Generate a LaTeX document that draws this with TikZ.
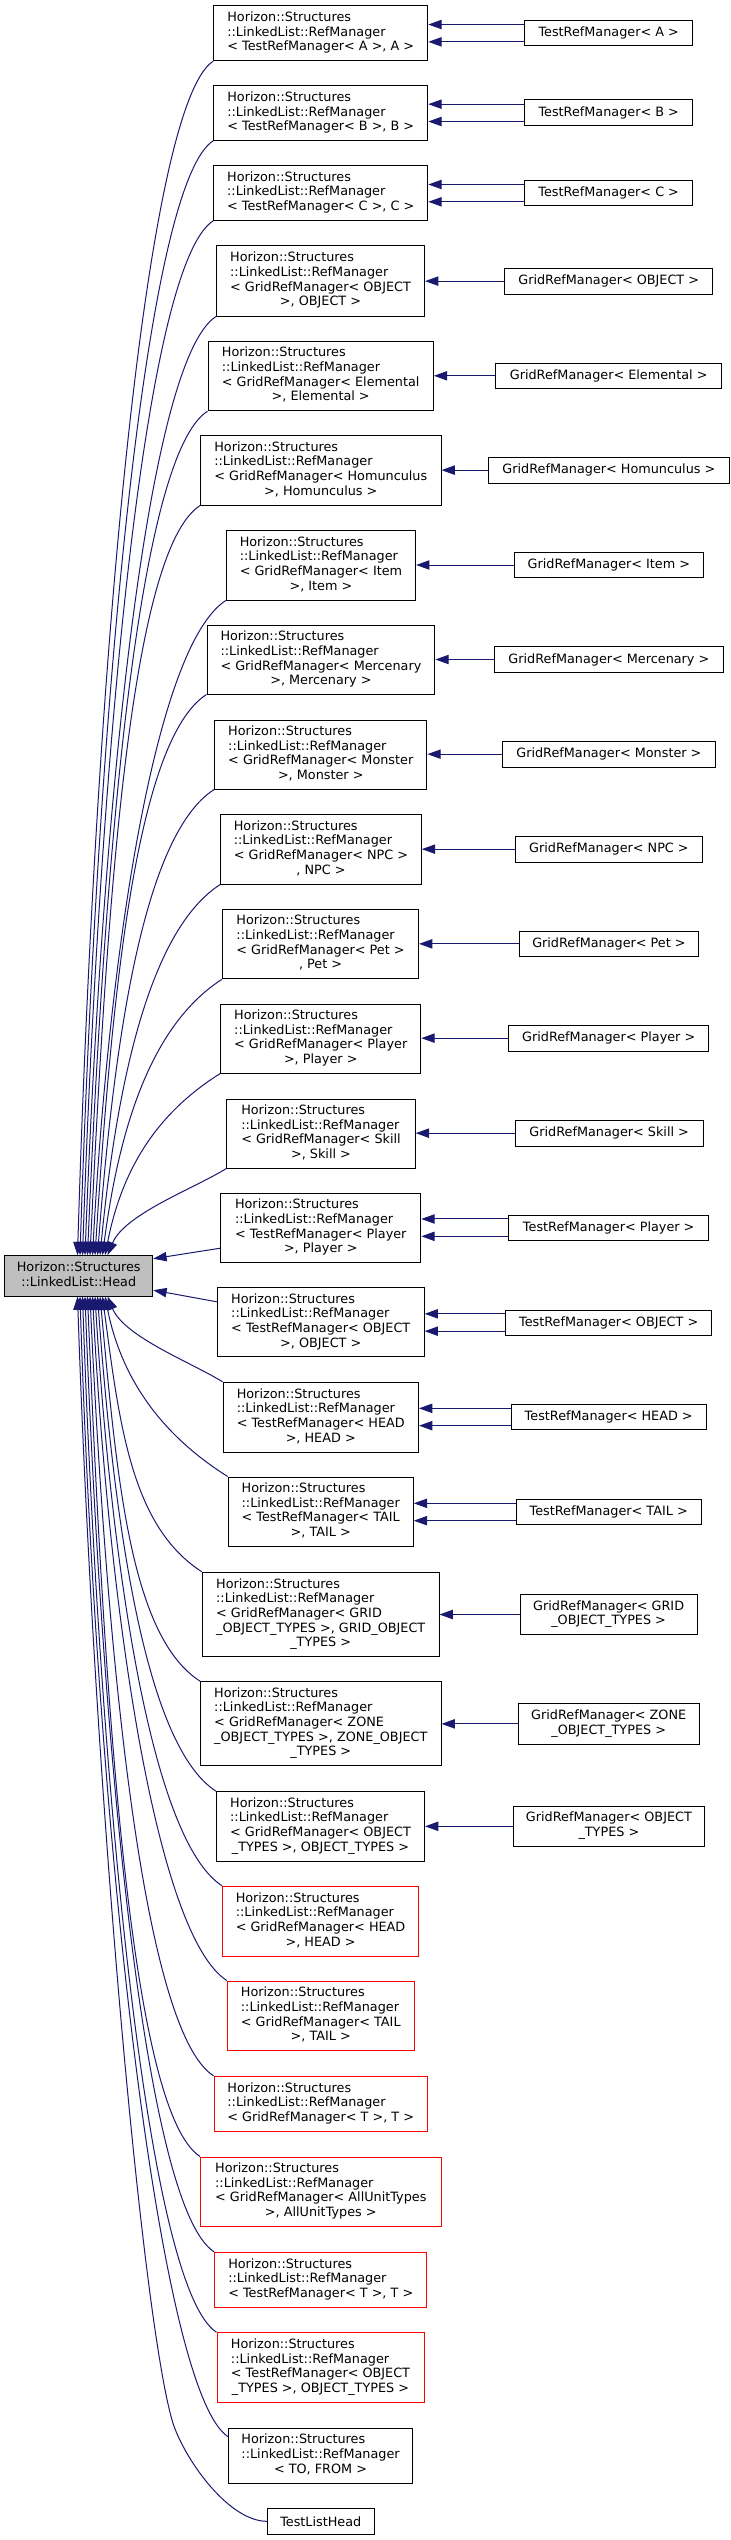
\documentclass[tikz,border=0pt]{standalone}
\usepackage{fontspec}
\newfontfamily\dv{DejaVu Sans}
\usetikzlibrary{arrows.meta,calc}
\definecolor{edgeblue}{HTML}{191970}
\definecolor{headfill}{HTML}{BFBFBF}
\newcommand\ml[2]{\begin{tabular}{@{}l@{}}#1\\\multicolumn{1}{@{}c@{}}{#2}\end{tabular}}
\newcommand\bx[7][box]{\node[#1, minimum width={(#5-#3)*0.75pt}, minimum height={(#6-#4)*0.75pt}] (#2) at ({(#3+#5)/2},{(#4+#6)/2}) {#7};}
\newcommand\upe[6]{\draw[edge] (#1.south west) .. controls +(#2,#3) and +(#4,#5) .. ($(hd.north west)+(#6,0)$);}
\newcommand\loe[6]{\draw[edge] (#1) .. controls +(#2,#3) and +(#4,#5) .. ($(hd.south west)+(#6,0)$);}
\newcommand\HS{Horizon::Structures\\::LinkedList::RefManager}
\tikzset{
  box/.style={draw=black, line width=0.75pt, fill=white, inner sep=0pt,
    font={\dv\fontsize{9.6pt}{11pt}\selectfont}},
  rbox/.style={box, draw=red},
  hbox/.style={box, fill=headfill},
  edge/.style={draw=edgeblue, line width=0.75pt, -{Triangle[length=10pt,width=7pt]}}
}
\begin{document}
\begin{tikzpicture}[x=0.75pt,y=-0.75pt]
\fill[white] (0,0) rectangle (731,2540);
\useasboundingbox (0,0) rectangle (731,2540);
% head
\bx[hbox]{hd}{4.7}{1255.7}{152.8}{1296}{\ml{Horizon::Structures}{::LinkedList::Head}}
% middle column
\bx{mA}{213.7}{5.7}{427.8}{60.7}{\ml{\HS}{< TestRefManager< A >, A >}}
\bx{mB}{213.7}{86}{427.8}{140.3}{\ml{\HS}{< TestRefManager< B >, B >}}
\bx{mC}{213.7}{165.7}{427.8}{220.3}{\ml{\HS}{< TestRefManager< C >, C >}}
\bx{mGO}{216.5}{246}{424.5}{316}{\ml{\HS\\< GridRefManager< OBJECT}{>, OBJECT >}}
\bx{mEl}{208}{341}{433.4}{410.7}{\ml{\HS\\< GridRefManager< Elemental}{>, Elemental >}}
\bx{mHo}{200.6}{435.7}{441}{505}{\ml{\HS\\< GridRefManager< Homunculus}{>, Homunculus >}}
\bx{mIt}{226.3}{530.3}{415.6}{600}{\ml{\HS\\< GridRefManager< Item}{>, Item >}}
\bx{mMe}{207}{625.7}{434.9}{694}{\ml{\HS\\< GridRefManager< Mercenary}{>, Mercenary >}}
\bx{mMo}{214.6}{720}{426.9}{789}{\ml{\HS\\< GridRefManager< Monster}{>, Monster >}}
\bx{mNPC}{220.7}{814.3}{421.3}{884}{\ml{\HS\\< GridRefManager< NPC >}{, NPC >}}
\bx{mPet}{222.6}{909.3}{418.5}{978.7}{\ml{\HS\\< GridRefManager< Pet >}{, Pet >}}
\bx{mGPl}{220.7}{1004}{420.8}{1073}{\ml{\HS\\< GridRefManager< Player}{>, Player >}}
\bx{mSk}{226.8}{1099}{415.2}{1168}{\ml{\HS\\< GridRefManager< Skill}{>, Skill >}}
\bx{mTPl}{220.7}{1193.3}{420.8}{1262.7}{\ml{\HS\\< TestRefManager< Player}{>, Player >}}
\bx{mTOB}{217.4}{1287.7}{424.1}{1356.7}{\ml{\HS\\< TestRefManager< OBJECT}{>, OBJECT >}}
\bx{mTHe}{223}{1382.3}{418.5}{1452}{\ml{\HS\\< TestRefManager< HEAD}{>, HEAD >}}
\bx{mTTa}{228.2}{1477}{413.3}{1546}{\ml{\HS\\< TestRefManager< TAIL}{>, TAIL >}}
\bx{mGGOT}{202.4}{1572.3}{439}{1656.7}{\ml{\HS\\< GridRefManager< GRID\\\_OBJECT\_TYPES >, GRID\_OBJECT}{\_TYPES >}}
\bx{mGZ}{200.6}{1681.7}{441}{1765.7}{\ml{\HS\\< GridRefManager< ZONE\\\_OBJECT\_TYPES >, ZONE\_OBJECT}{\_TYPES >}}
\bx{mGOT}{216.5}{1791.7}{424.5}{1861}{\ml{\HS\\< GridRefManager< OBJECT}{\_TYPES >, OBJECT\_TYPES >}}
\bx[rbox]{mGH}{222.6}{1886.3}{418.5}{1956.3}{\ml{\HS\\< GridRefManager< HEAD}{>, HEAD >}}
\bx[rbox]{mGT}{227.3}{1981}{414.2}{2050.7}{\ml{\HS\\< GridRefManager< TAIL}{>, TAIL >}}
\bx[rbox]{mGTT}{214}{2076.3}{427.4}{2131.3}{\ml{\HS}{< GridRefManager< T >, T >}}
\bx[rbox]{mGAU}{200.6}{2157}{441}{2226.3}{\ml{\HS\\< GridRefManager< AllUnitTypes}{>, AllUnitTypes >}}
\bx[rbox]{mTT}{214.6}{2252.3}{426.9}{2307.3}{\ml{\HS}{< TestRefManager< T >, T >}}
\bx[rbox]{mTOT}{217}{2332.7}{424}{2402.7}{\ml{\HS\\< TestRefManager< OBJECT}{\_TYPES >, OBJECT\_TYPES >}}
\bx{mTF}{228.7}{2428.3}{412.4}{2483}{\ml{\HS}{< TO, FROM >}}
\bx{tlh}{267.6}{2508.3}{374}{2534.3}{TestListHead}
% right column
\bx{rA}{524.8}{20.7}{692.6}{45.7}{TestRefManager< A >}
\bx{rB}{524.8}{100}{692.6}{125.7}{TestRefManager< B >}
\bx{rC}{524.8}{180.3}{692.6}{206}{TestRefManager< C >}
\bx{rGO}{504.7}{268.3}{712.7}{294}{GridRefManager< OBJECT >}
\bx{rEl}{495.8}{363.3}{721.6}{388.3}{GridRefManager< Elemental >}
\bx{rHo}{488.7}{457.3}{729.1}{483}{GridRefManager< Homunculus >}
\bx{rIt}{514}{552.3}{703.8}{577.7}{GridRefManager< Item >}
\bx{rMe}{494.8}{646.7}{723}{672.3}{GridRefManager< Mercenary >}
\bx{rMo}{502.8}{741.3}{715}{767}{GridRefManager< Monster >}
\bx{rNPC}{515.5}{836.3}{702.4}{862}{GridRefManager< NPC >}
\bx{rPet}{519.2}{931}{698.7}{956.7}{GridRefManager< Pet >}
\bx{rGPl}{508.9}{1025.3}{708.5}{1051}{GridRefManager< Player >}
\bx{rSk}{515}{1120.3}{703.4}{1146}{GridRefManager< Skill >}
\bx{rTPl}{508.9}{1215}{708.5}{1240.3}{TestRefManager< Player >}
\bx{rTOB}{505.6}{1310}{711.8}{1335}{TestRefManager< OBJECT >}
\bx{rTHe}{511.2}{1404.3}{706.2}{1429.7}{TestRefManager< HEAD >}
\bx{rTTa}{516.4}{1499.3}{701}{1524.7}{TestRefManager< TAIL >}
\bx{rGGOT}{520}{1594.3}{697.3}{1634.7}{\ml{GridRefManager< GRID}{\_OBJECT\_TYPES >}}
\bx{rGZ}{518.3}{1703.7}{699.1}{1744}{\ml{GridRefManager< ZONE}{\_OBJECT\_TYPES >}}
\bx{rGOT}{513}{1806.3}{704.8}{1846.3}{\ml{GridRefManager< OBJECT}{\_TYPES >}}
% right-to-middle edges
\foreach \r/\m in {rA/mA,rB/mB,rC/mC,rTPl/mTPl,rTOB/mTOB,rTHe/mTHe,rTTa/mTTa}{
  \draw[edge] ([yshift=6.5pt]\r.west) -- ([yshift=6.5pt]\r.west -| \m.east);
  \draw[edge] ([yshift=-6.5pt]\r.west) -- ([yshift=-6.5pt]\r.west -| \m.east);
}
\foreach \r/\m in {rGO/mGO,rEl/mEl,rHo/mHo,rIt/mIt,rMe/mMe,rMo/mMo,rNPC/mNPC,rPet/mPet,rGPl/mGPl,rSk/mSk,rGGOT/mGGOT,rGZ/mGZ,rGOT/mGOT}{
  \draw[edge] (\r.west) -- (\r.west -| \m.east);
}
% edges into the head, top side
\upe{mA}{-70}{45}{17}{-561.7}{73.3}
\upe{mB}{-70}{45}{17}{-524.2}{75.8}
\upe{mC}{-70}{45}{17}{-486.6}{78.3}
\upe{mGO}{-70}{45}{17}{-441.7}{80.8}
\upe{mEl}{-70}{45}{17}{-397.2}{83.3}
\upe{mHo}{-70}{45}{17}{-352.8}{85.8}
\upe{mIt}{-70}{45}{17}{-308.2}{88.3}
\upe{mMe}{-70}{45}{17}{-264}{90.8}
\upe{mMo}{-70}{45}{17}{-219.3}{93.3}
\upe{mNPC}{-70}{45}{17}{-174.7}{95.8}
\upe{mPet}{-70}{45}{17}{-130.2}{98.3}
\upe{mGPl}{-63.9}{40.2}{17}{-85.9}{100.8}
\upe{mSk}{-30.7}{19.3}{17}{-41.2}{103.3}
% right side of the head
\draw[edge] ($(mTPl.south west)+(0,-15)$) -- ($(hd.north east)+(0,3.5)$);
\draw[edge] ($(mTOB.north west)+(0,14.6)$) -- ($(hd.north east)+(0,35)$);
% bottom side
\loe{mTHe.north west}{-30.2}{-19}{17}{40.6}{103.3}
\loe{mTTa.north west}{-63.4}{-39.8}{17}{85.1}{100.8}
\loe{mGGOT.north west}{-70}{-45}{17}{129.9}{98.3}
\loe{mGZ.north west}{-70}{-45}{17}{181.3}{95.8}
\loe{mGOT.north west}{-70}{-45}{17}{233}{93.3}
\loe{mGH.north west}{-70}{-45}{17}{277.4}{90.8}
\loe{mGT.north west}{-70}{-45}{17}{322}{88.3}
\loe{mGTT.north west}{-70}{-45}{17}{366.7}{85.8}
\loe{mGAU.north west}{-70}{-45}{17}{404.7}{83.3}
\loe{mTT.north west}{-70}{-45}{17}{449.5}{80.8}
\loe{mTOT.north west}{-70}{-45}{17}{487.2}{78.3}
\draw[edge] ($(mTF.north west)+(0,9)$) .. controls +(-70,-45) and +(17,536.4) .. ($(hd.south west)+(75.8,0)$);
\coordinate (tlhm) at ($(tlh.west)+(-95,-101)$);
\draw[edge] (tlh.west) .. controls +(-40,0) and +(10,35) .. (tlhm)
  .. controls +(-30,-105) and +(17,500) .. ($(hd.south west)+(73.3,0)$);
\end{tikzpicture}
\end{document}
